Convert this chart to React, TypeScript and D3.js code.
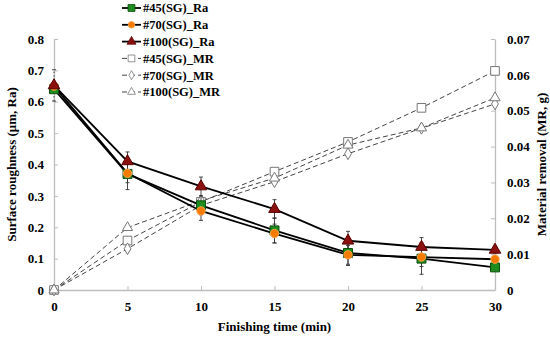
import React, { useEffect, useRef } from 'react';
import * as d3 from 'd3';

const times = [0, 5, 10, 15, 20, 25, 30];

const ra45 = [0.64, 0.37, 0.27, 0.19, 0.118, 0.1, 0.072];
const ra70 = [0.65, 0.372, 0.252, 0.18, 0.112, 0.105, 0.098];
const ra100 = [0.652, 0.41, 0.33, 0.258, 0.157, 0.137, 0.128];

const err45 = [0.01, 0.05, 0.03, 0.04, 0.04, 0.05, 0.0];
const err70 = [0.01, 0.03, 0.03, 0.03, 0.03, 0.03, 0.01];
const err100 = [0.05, 0.03, 0.03, 0.03, 0.03, 0.03, 0.01];

const mr45 = [0, 0.0138, 0.0246, 0.033, 0.0413, 0.0508, 0.0611];
const mr70 = [0, 0.0115, 0.0236, 0.0302, 0.038, 0.0451, 0.0519];
const mr100 = [0, 0.0174, 0.0249, 0.0312, 0.0404, 0.0452, 0.0536];

const leftTicks = [0, 0.1, 0.2, 0.3, 0.4, 0.5, 0.6, 0.7, 0.8];
const rightTicks = [0, 0.01, 0.02, 0.03, 0.04, 0.05, 0.06, 0.07];

const legendLabels = ['#45(SG)_Ra', '#70(SG)_Ra', '#100(SG)_Ra', '#45(SG)_MR', '#70(SG)_MR', '#100(SG)_MR'];

const App: React.FC = () => {
  const svgRef = useRef<SVGSVGElement>(null);

  useEffect(() => {
    if (!svgRef.current) return;
    const svg = d3.select(svgRef.current);
    svg.selectAll('*').remove();

    const left = 54, right = 495, top = 39, bottom = 290;
    const font = '"Liberation Serif", "Times New Roman", serif';
    const axisColor = '#bdbdbd';

    const x = d3.scaleLinear().domain([0, 30]).range([left, right]);
    const y = d3.scaleLinear().domain([0, 0.8]).range([bottom, top]);
    const y2 = d3.scaleLinear().domain([0, 0.07]).range([bottom, top]);

    // axes (ticks point inward)
    const styleAxis = (g: d3.Selection<SVGGElement, unknown, null, undefined>) => {
      g.select('.domain').attr('stroke', axisColor).attr('stroke-width', 1.3);
      g.selectAll('.tick line').attr('stroke', axisColor);
      g.selectAll('.tick text')
        .attr('font-family', font)
        .attr('font-weight', 'bold')
        .attr('font-size', 13)
        .attr('fill', '#000');
    };

    svg.append('g')
      .attr('transform', `translate(0,${bottom})`)
      .call(d3.axisBottom(x).tickValues(times).tickSize(-4).tickSizeOuter(0).tickPadding(12).tickFormat(d3.format('d')))
      .call(styleAxis);

    svg.append('g')
      .attr('transform', `translate(${left},0)`)
      .call(d3.axisLeft(y).tickValues(leftTicks).tickSize(-4).tickSizeOuter(0).tickPadding(10)
        .tickFormat(d => (d === 0 ? '0' : d3.format('.1f')(d as number))))
      .call(styleAxis);

    svg.append('g')
      .attr('transform', `translate(${right},0)`)
      .call(d3.axisRight(y2).tickValues(rightTicks).tickSize(-4).tickSizeOuter(0).tickPadding(12)
        .tickFormat(d => (d === 0 ? '0' : d3.format('.2f')(d as number))))
      .call(styleAxis);

    // axis titles
    svg.append('text')
      .attr('x', (left + right) / 2)
      .attr('y', 331)
      .attr('text-anchor', 'middle')
      .attr('font-family', font)
      .attr('font-weight', 'bold')
      .attr('font-size', 13)
      .text('Finishing time (min)');

    svg.append('text')
      .attr('transform', `translate(11,${(top + bottom) / 2}) rotate(-90)`)
      .attr('text-anchor', 'middle')
      .attr('dy', '0.35em')
      .attr('font-family', font)
      .attr('font-weight', 'bold')
      .attr('font-size', 13)
      .text('Surface roughness (μm, Ra)');

    svg.append('text')
      .attr('transform', `translate(541,${(top + bottom) / 2}) rotate(-90)`)
      .attr('text-anchor', 'middle')
      .attr('dy', '0.35em')
      .attr('font-family', font)
      .attr('font-weight', 'bold')
      .attr('font-size', 13)
      .text('Material removal (MR, g)');

    // MR dashed series
    const mrSeries = [
      { vals: mr45, sym: d3.symbolSquare, size: 75 },
      { vals: mr70, sym: d3.symbolDiamond, size: 40 },
      { vals: mr100, sym: d3.symbolTriangle, size: 45 },
    ];
    const mrLine = d3.line<number>().x((_, i) => x(times[i])).y(v => y2(v));

    mrSeries.forEach(s => {
      svg.append('path')
        .datum(s.vals)
        .attr('fill', 'none')
        .attr('stroke', '#444')
        .attr('stroke-width', 1)
        .attr('stroke-dasharray', '5,3')
        .attr('d', mrLine);
    });
    mrSeries.forEach(s => {
      svg.append('g').selectAll('path')
        .data(s.vals)
        .enter().append('path')
        .attr('transform', (v, i) => `translate(${x(times[i])},${y2(v)})`)
        .attr('d', d3.symbol().type(s.sym).size(s.size)())
        .attr('fill', '#fff')
        .attr('stroke', '#777')
        .attr('stroke-width', 1);
    });

    // Ra series
    const raSeries = [
      { vals: ra45, err: err45, sym: d3.symbolSquare, size: 80, fill: '#1e8c1e', stroke: '#0f4f0f' },
      { vals: ra70, err: err70, sym: d3.symbolCircle, size: 55, fill: '#f57c00', stroke: '#f9a24a' },
      { vals: ra100, err: err100, sym: d3.symbolTriangle, size: 58, fill: '#8b1010', stroke: '#5a0000' },
    ];
    const raLine = d3.line<number>().x((_, i) => x(times[i])).y(v => y(v));

    raSeries.forEach(s => {
      const eg = svg.append('g').attr('stroke', '#333').attr('stroke-width', 0.9);
      s.vals.forEach((v, i) => {
        if (!s.err[i]) return;
        const cx = x(times[i]);
        const y0 = y(v - s.err[i]);
        const y1 = y(v + s.err[i]);
        eg.append('line').attr('x1', cx).attr('x2', cx).attr('y1', y0).attr('y2', y1)
          .attr('stroke-dasharray', i === 0 ? '1.5,2' : null);
        eg.append('line').attr('x1', cx - 2).attr('x2', cx + 2).attr('y1', y0).attr('y2', y0);
        eg.append('line').attr('x1', cx - 2).attr('x2', cx + 2).attr('y1', y1).attr('y2', y1);
      });
    });

    raSeries.forEach(s => {
      svg.append('path')
        .datum(s.vals)
        .attr('fill', 'none')
        .attr('stroke', '#000')
        .attr('stroke-width', 1.8)
        .attr('d', raLine);
    });
    raSeries.forEach(s => {
      svg.append('g').selectAll('path')
        .data(s.vals)
        .enter().append('path')
        .attr('transform', (v, i) => `translate(${x(times[i])},${y(v)})`)
        .attr('d', d3.symbol().type(s.sym).size(s.size)())
        .attr('fill', s.fill)
        .attr('stroke', s.stroke)
        .attr('stroke-width', 1);
    });

    // legend
    const legendStyles = [...raSeries.map(s => ({ ...s, dashed: false })), ...mrSeries.map(s => ({ ...s, fill: '#fff', stroke: '#777', dashed: true }))];
    const legend = svg.append('g')
      .selectAll('g')
      .data(legendLabels)
      .enter().append('g')
      .attr('transform', (_, i) => `translate(122,${8 + i * 16.8})`);

    legend.append('line')
      .attr('x1', 0).attr('x2', 19).attr('y1', 0).attr('y2', 0)
      .attr('stroke', (_, i) => (legendStyles[i].dashed ? '#444' : '#000'))
      .attr('stroke-width', (_, i) => (legendStyles[i].dashed ? 1 : 1.8))
      .attr('stroke-dasharray', (_, i) => (legendStyles[i].dashed ? '5,3' : null));

    legend.append('path')
      .attr('transform', 'translate(9.5,0)')
      .attr('d', (_, i) => d3.symbol().type(legendStyles[i].sym).size(legendStyles[i].size * 0.6)())
      .attr('fill', (_, i) => legendStyles[i].fill)
      .attr('stroke', (_, i) => legendStyles[i].stroke)
      .attr('stroke-width', 0.8);

    legend.append('text')
      .attr('x', 21)
      .attr('dy', '0.35em')
      .attr('font-family', font)
      .attr('font-weight', 'bold')
      .attr('font-size', 12.5)
      .text(d => d);
  }, []);

  return (
    <svg ref={svgRef} width={550} height={338} style={{ position: 'absolute', left: 0, top: 0, background: '#fff' }}></svg>
  );
};

export default App;
